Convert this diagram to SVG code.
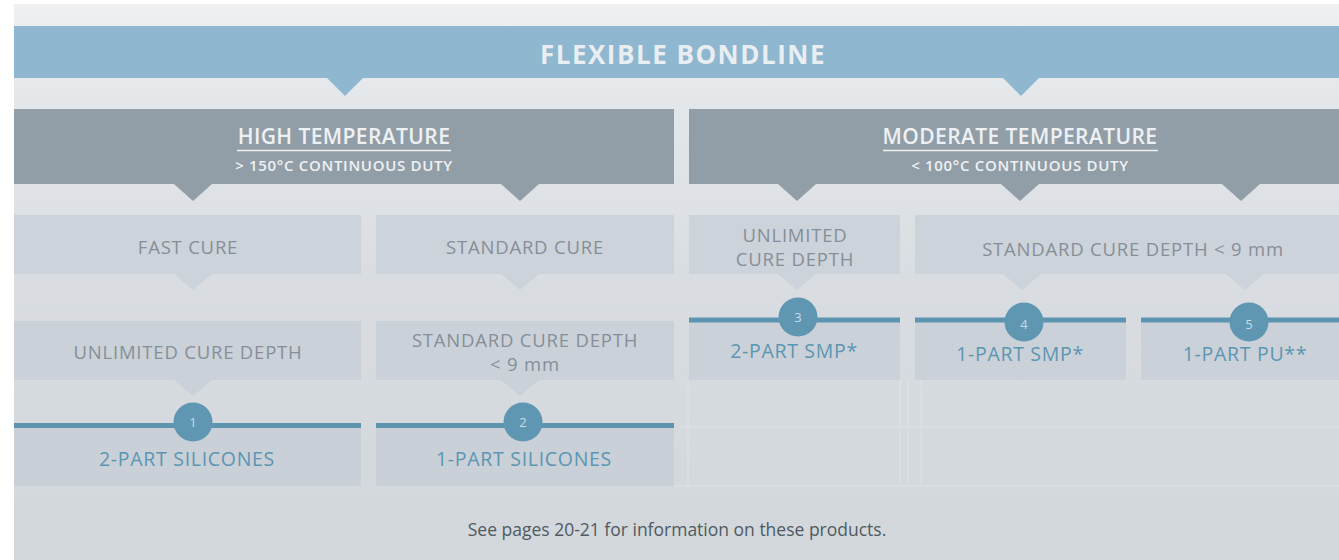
<svg xmlns="http://www.w3.org/2000/svg" width="1339" height="560" viewBox="0 0 1339 560">
<defs>
<linearGradient id="bg" x1="0" y1="0" x2="0" y2="1">
<stop offset="0" stop-color="#eef0f2"/>
<stop offset="0.18" stop-color="#e4e7ea"/>
<stop offset="0.5" stop-color="#d9dde1"/>
<stop offset="1" stop-color="#d2d7db"/>
</linearGradient>
<style>
.t{font-family:"Open Sans","Liberation Sans",sans-serif;text-anchor:middle}
.banner{fill:#8fb7cf}
.dark{fill:#919ea7}
.lite{fill:#cdd3da}
.lite2{fill:#cbd1d8}
.lite3{fill:#c9d0d7}
.h1{font-size:26px;font-weight:700;fill:#e9eef2;letter-spacing:1.5px}
.h2{font-size:21px;font-weight:600;fill:#eef1f3;letter-spacing:0.4px}
.h3{font-size:15px;font-weight:600;fill:#eef1f3;letter-spacing:0.7px}
.ul{stroke:#eef1f3;stroke-width:1.6}
.g{font-size:18.5px;font-weight:400;fill:#858f98;letter-spacing:0.8px}
.p{font-size:19.5px;font-weight:400;fill:#5b96b3;letter-spacing:0.7px}
.bar{fill:#5d95b1}
.dot{fill:#5f97b3}
.n{font-size:13px;fill:#c9dbe6}
.foot{font-size:17.5px;fill:#4f5a62}
.guide{stroke:#dfe3e6;stroke-width:1;fill:none}
</style>
</defs>
<rect x="0" y="0" width="1339" height="560" fill="#ffffff"/>
<rect x="14" y="4" width="1325" height="556" fill="url(#bg)"/>
<g id="guides">
<path class="guide" d="M688 380V486M900 380V486M908 380V486M921 380V486M680 427H1339M674 486H1339"/>
</g>
<g id="flexible-bondline">
<rect class="banner" x="14" y="26" width="1325" height="52"/>
<text class="t h1" x="683" y="64">FLEXIBLE BONDLINE</text>
</g>
<g id="high-temperature">
<rect class="dark" x="14" y="109" width="660" height="75"/>
<text class="t h2" x="344" y="144">HIGH TEMPERATURE</text>
<line class="ul" x1="237" y1="150.5" x2="451" y2="150.5"/>
<text class="t h3" x="344" y="171">&gt; 150°C CONTINUOUS DUTY</text>
</g>
<g id="moderate-temperature">
<rect class="dark" x="689" y="109" width="650" height="75"/>
<text class="t h2" x="1020" y="144">MODERATE TEMPERATURE</text>
<line class="ul" x1="883" y1="150.5" x2="1158" y2="150.5"/>
<text class="t h3" x="1020" y="171">&lt; 100°C CONTINUOUS DUTY</text>
</g>
<g id="fast-cure">
<rect class="lite" x="14" y="215" width="347" height="59"/>
<text class="t g" x="188" y="254">FAST CURE</text>
</g>
<g id="standard-cure">
<rect class="lite" x="376" y="215" width="298" height="59"/>
<text class="t g" x="525" y="254">STANDARD CURE</text>
</g>
<g id="unlimited-cure-depth-mod">
<rect class="lite" x="689" y="215" width="211" height="59"/>
<text class="t g" x="795" y="242">UNLIMITED</text>
<text class="t g" x="795" y="266">CURE DEPTH</text>
</g>
<g id="standard-cure-depth-mod">
<rect class="lite" x="915" y="215" width="424" height="59"/>
<text class="t g" x="1133" y="256">STANDARD CURE DEPTH &lt; 9 mm</text>
</g>
<g id="unlimited-cure-depth-high">
<rect class="lite2" x="14" y="321" width="347" height="59"/>
<text class="t g" x="188" y="359">UNLIMITED CURE DEPTH</text>
</g>
<g id="standard-cure-depth-high">
<rect class="lite2" x="376" y="321" width="298" height="59"/>
<text class="t g" x="525" y="347">STANDARD CURE DEPTH</text>
<text class="t g" x="525" y="371">&lt; 9 mm</text>
</g>
<g id="p3-2-part-smp">
<rect class="lite2" x="689" y="320" width="211" height="60"/>
<rect class="bar" x="689" y="317.5" width="211" height="5"/>
<circle class="dot" cx="798" cy="317" r="19.5"/>
<text class="t n" x="798" y="322">3</text>
<text class="t p" x="794" y="358">2-PART SMP*</text>
</g>
<g id="p4-1-part-smp">
<rect class="lite2" x="915" y="320" width="211" height="60"/>
<rect class="bar" x="915" y="317.5" width="211" height="5"/>
<circle class="dot" cx="1024" cy="322" r="19.5"/>
<text class="t n" x="1024" y="329">4</text>
<text class="t p" x="1020" y="361">1-PART SMP*</text>
</g>
<g id="p5-1-part-pu">
<rect class="lite2" x="1141" y="320" width="198" height="60"/>
<rect class="bar" x="1141" y="317.5" width="198" height="5"/>
<circle class="dot" cx="1249" cy="322" r="19.5"/>
<text class="t n" x="1249" y="329">5</text>
<text class="t p" x="1245" y="361">1-PART PU**</text>
</g>
<g id="p1-2-part-silicones">
<rect class="lite3" x="14" y="426" width="347" height="60"/>
<rect class="bar" x="14" y="423" width="347" height="5"/>
<circle class="dot" cx="193" cy="422" r="19.5"/>
<text class="t n" x="193" y="427">1</text>
<text class="t p" x="187" y="466">2-PART SILICONES</text>
</g>
<g id="p2-1-part-silicones">
<rect class="lite3" x="376" y="426" width="298" height="60"/>
<rect class="bar" x="376" y="423" width="298" height="5"/>
<circle class="dot" cx="523" cy="422" r="19.5"/>
<text class="t n" x="523" y="427">2</text>
<text class="t p" x="524" y="466">1-PART SILICONES</text>
</g>
<g id="connectors">
<polygon class="banner" points="327,78 363,78 345,96"/>
<polygon class="banner" points="1003,78 1039,78 1021,96"/>
<polygon class="dark" points="174,184 212,184 193,201"/>
<polygon class="dark" points="501,184 539,184 520,201"/>
<polygon class="dark" points="778,184 816,184 797,201"/>
<polygon class="dark" points="1001,184 1039,184 1020,201"/>
<polygon class="dark" points="1222,184 1260,184 1241,201"/>
<polygon class="lite" points="174,274 212,274 193,290"/>
<polygon class="lite" points="501,274 539,274 520,290"/>
<polygon class="lite" points="778,274 816,274 797,290"/>
<polygon class="lite" points="1003,274 1041,274 1022,290"/>
<polygon class="lite" points="1226,274 1264,274 1245,290"/>
<polygon class="lite2" points="174,380 212,380 193,396"/>
<polygon class="lite2" points="501,380 539,380 520,396"/>
</g>
<g id="footnote">
<text class="t foot" x="677" y="536">See pages 20-21 for information on these products.</text>
</g>
</svg>
